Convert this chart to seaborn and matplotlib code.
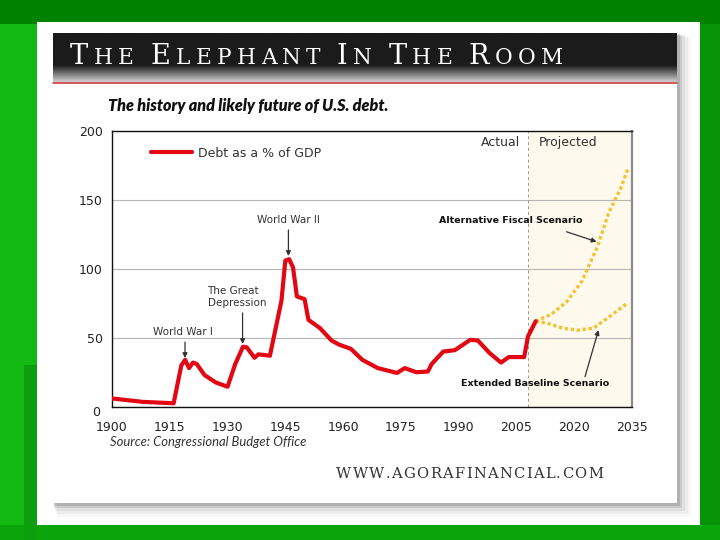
import numpy as np
import pandas as pd
import matplotlib
matplotlib.use("Agg")
import matplotlib.pyplot as plt
import matplotlib.transforms as mtrans
from matplotlib.patches import Rectangle
from matplotlib.lines import Line2D
import seaborn as sns

# ---------------- data ----------------
hist_years = [1900, 1908, 1916, 1918, 1919, 1920, 1921, 1922, 1924, 1927, 1930,
              1932, 1934, 1935, 1937, 1938, 1941, 1944, 1945, 1946, 1947, 1948,
              1950, 1951, 1954, 1957, 1959, 1962, 1965, 1969, 1974, 1976, 1979,
              1982, 1983, 1986, 1989, 1993, 1995, 1998, 2001, 2003, 2007, 2008, 2010]
hist_debt = [6, 3.5, 2.5, 30, 34, 28, 32, 31, 23, 17.5, 14.5,
             31, 43.5, 43, 35.5, 38, 37, 77, 106, 107, 101, 80,
             78, 63, 57, 48, 45, 42, 34, 28, 24.5, 28, 25,
             25.5, 31, 40, 41, 48.5, 48, 39, 32, 36, 36, 51, 62]

alt_years = [2010, 2014, 2018, 2022, 2026, 2029, 2032, 2034]
alt_debt = [62, 67, 76, 91, 116, 141, 158, 173]

base_years = [2010, 2013, 2017, 2021, 2025, 2029, 2034]
base_debt = [62, 60.5, 57, 55.5, 57, 65, 75.5]

x_ticks = [1900, 1915, 1930, 1945, 1960, 1975, 1990, 2005, 2020, 2035]
y_ticks = [0, 50, 100, 150, 200]
projection_start = 2008

title_words = ["THE", "ELEPHANT", "IN", "THE", "ROOM"]
subtitle = "The history and likely future of U.S. debt."
source_text = "Source: Congressional Budget Office"
website = "WWW.AGORAFINANCIAL.COM"
legend_label = "Debt as a % of GDP"
event_labels = ["World War I", "The Great\nDepression", "World War II"]
scenario_labels = ["Alternative Fiscal Scenario", "Extended Baseline Scenario"]

# ---------------- style ----------------
sns.set_theme(style="white")
plt.rcParams["font.family"] = ["DejaVu Sans"]

RED = "#e30613"
YEL = "#f2c433"
W, H = 720, 540

fig = plt.figure(figsize=(7.2, 5.4), dpi=100)
fig.patch.set_facecolor("#0b960b")
renderer = fig.canvas.get_renderer()


def fx(x):
    return x / W


def fy(y):
    return 1 - y / H


def rect(x0, y0, x1, y1, z=-5, **kw):
    r = Rectangle((fx(x0), fy(y1)), (x1 - x0) / W, (y1 - y0) / H,
                  transform=fig.transFigure, zorder=z, lw=0, **kw)
    fig.add_artist(r)
    return r


# slide background
rect(0, 0, 720, 24, z=-9, fc="#008200")
rect(0, 24, 37, 540, z=-9, fc="#12ba12")
rect(24, 365, 37, 540, z=-8, fc="#0c9e0c")
rect(700, 24, 720, 540, z=-9, fc="#079307")
rect(0, 525, 720, 540, z=-9, fc="#0aa50a")
# white panel
rect(37, 22, 700, 525, z=-7, fc="white")
# card shadow + card
for k, a in [(14, 0.03), (11, 0.04), (8, 0.06), (5, 0.09), (3, 0.12)]:
    rect(53 + k * 0.3, 33 + k * 0.3, 677 + k, 503 + k, z=-6, fc="black", alpha=a)
rect(53, 33, 677, 503, z=-5, fc="white")

# header bar gradient
axh = fig.add_axes([fx(53), fy(82), 624 / W, 49 / H], zorder=1)
g = np.linspace(0, 1, 200)
top = np.array([0x1b, 0x1b, 0x1b]) / 255
bot = np.array([0xc6, 0xc6, 0xc6]) / 255
t = np.clip((g - 0.66) / 0.32, 0, 1) ** 1.0
cols = top + (bot - top) * t[:, None]
axh.imshow(cols[:, None, :], aspect="auto", extent=[0, 1, 0, 1])
axh.set_axis_off()
fig.add_artist(Line2D([fx(53), fx(677)], [fy(82.5), fy(82.5)],
                      transform=fig.transFigure, color="#c8282d", lw=1.1, zorder=2))


def spaced_text(items, x0, x1, ybase, color, family, word_gap, **kw):
    texts, widths = [], []
    for it in items:
        if it is None:
            texts.append(None)
            widths.append(0)
            continue
        ch, sz = it
        tt = fig.text(0, fy(ybase), ch, fontsize=sz, family=family, color=color,
                      va="baseline", ha="left", zorder=4, **kw)
        widths.append(tt.get_window_extent(renderer).width)
        texts.append(tt)
    n_letters = sum(1 for it in items if it is not None)
    n_breaks = sum(1 for it in items if it is None)
    natural = sum(widths) + n_breaks * word_gap
    track = (x1 - x0 - natural) / max(n_letters - 1, 1)
    x = x0
    for tt, w in zip(texts, widths):
        if tt is None:
            x += word_gap
            continue
        tt.set_x(fx(x))
        x += w + track


# title in small caps
items = []
for i, wd in enumerate(title_words):
    if i > 0:
        items.append(None)
    items.append((wd[0], 19.7))
    for ch in wd[1:]:
        items.append((ch, 15.6))
spaced_text(items, 70, 563, 64.5, "white", "DejaVu Serif", 11)

# subtitle
def fit_text(x, ybase, s, target_w, **kw):
    tt = fig.text(fx(x), fy(ybase), s, va="baseline", ha="left", zorder=4, **kw)
    w = tt.get_window_extent(renderer).width
    tt.set_fontsize(tt.get_fontsize() * target_w / w)
    return tt

fit_text(108, 110.5, subtitle, 282, fontsize=10, family="Lato",
         fontweight="heavy", fontstyle="italic", color="#111111")
fit_text(110, 446, source_text, 196, fontsize=8, family="Lato",
         fontstyle="italic", color="#333333")
spaced_text([(c, 10.6) for c in website], 336, 603, 478, "#333333",
            "DejaVu Serif", 0)

# ---------------- main chart ----------------
ax = fig.add_axes([fx(112), fy(406.7), 520 / W, 275.7 / H], zorder=1)
ax.set_facecolor("white")

ax.axvspan(projection_start, 2035, color="#fdf9ec", zorder=0.3, lw=0)
ax.axvline(projection_start, color="#9a9a9a", lw=0.7, ls=(0, (3, 3)), zorder=0.6)

df_hist = pd.DataFrame({"year": hist_years, "debt": hist_debt})
df_alt = pd.DataFrame({"year": alt_years, "debt": alt_debt})
df_base = pd.DataFrame({"year": base_years, "debt": base_debt})

sns.lineplot(data=df_alt, x="year", y="debt", ax=ax, color=YEL, lw=2.4,
             linestyle=(0, (1.0, 0.8)), zorder=3)
sns.lineplot(data=df_base, x="year", y="debt", ax=ax, color=YEL, lw=2.4,
             linestyle=(0, (1.0, 0.8)), zorder=3)
sns.lineplot(data=df_hist, x="year", y="debt", ax=ax, color=RED, lw=3.0,
             zorder=4, solid_joinstyle="round")

ax.set_xlim(1900, 2035)
ax.set_ylim(0, 200)
ax.set_xticks(x_ticks)
ax.set_yticks(y_ticks)
ax.set_xlabel("")
ax.set_ylabel("")
ax.set_axisbelow(True)
ax.yaxis.grid(True, color="#b5b5b5", lw=0.8)
ax.xaxis.grid(False)
ax.tick_params(axis="x", length=0, pad=10.5, labelsize=9, labelcolor="#222222")
ax.tick_params(axis="y", length=0, pad=6.5, labelsize=9, labelcolor="#222222")
for side in ["top", "left", "bottom"]:
    ax.spines[side].set_color("#111111")
    ax.spines[side].set_linewidth(1.0)
ax.spines["right"].set_color("#8a8a8a")
ax.spines["right"].set_linewidth(1.6)

# lower the "0" label slightly as in the reference
lbl0 = ax.get_yticklabels()[0]
lbl0.set_transform(lbl0.get_transform() +
                   mtrans.ScaledTranslation(-2 / 72, -3 / 72, fig.dpi_scale_trans))

leg = ax.legend(handles=[Line2D([], [], color=RED, lw=3.0)], labels=[legend_label],
                loc="upper left", bbox_to_anchor=(0.058, 0.975), frameon=False,
                fontsize=9, handlelength=3.3, handletextpad=0.5, borderpad=0.2)
for txt in leg.get_texts():
    txt.set_color("#333333")

ax.text(2005.9, 191.5, "Actual", ha="right", va="center", fontsize=9, color="#333333")
ax.text(2010.7, 191.5, "Projected", ha="left", va="center", fontsize=9, color="#333333")

arrow = dict(arrowstyle="-|>", color="#333333", lw=0.9, mutation_scale=7,
             shrinkA=0, shrinkB=0)
ax.text(1918.5, 54.2, event_labels[0], ha="center", va="center", fontsize=7.5, color="#333333")
ax.annotate("", xy=(1918.95, 35.3), xytext=(1918.95, 46.9), arrowprops=arrow)
ax.text(1924.8, 79.6, event_labels[1], ha="left", va="center", fontsize=7.5,
        color="#333333", linespacing=1.15)
ax.annotate("", xy=(1933.9, 45.5), xytext=(1933.9, 68), arrowprops=arrow)
ax.text(1945.8, 135.4, event_labels[2], ha="center", va="center", fontsize=7.5, color="#333333")
ax.annotate("", xy=(1945.8, 109.3), xytext=(1945.8, 128.2), arrowprops=arrow)

ax.text(2003.6, 135, scenario_labels[0], ha="center", va="center", fontsize=6.8,
        fontweight="bold", color="#111111")
ax.annotate("", xy=(2025.8, 119.7), xytext=(2018.0, 126.9), arrowprops=arrow)
ax.text(2009.8, 17, scenario_labels[1], ha="center", va="center", fontsize=6.8,
        fontweight="bold", color="#111111")
ax.annotate("", xy=(2026.3, 55.6), xytext=(2022.8, 21.8), arrowprops=arrow)

fig.savefig("out.png", dpi=100, facecolor=fig.get_facecolor())
